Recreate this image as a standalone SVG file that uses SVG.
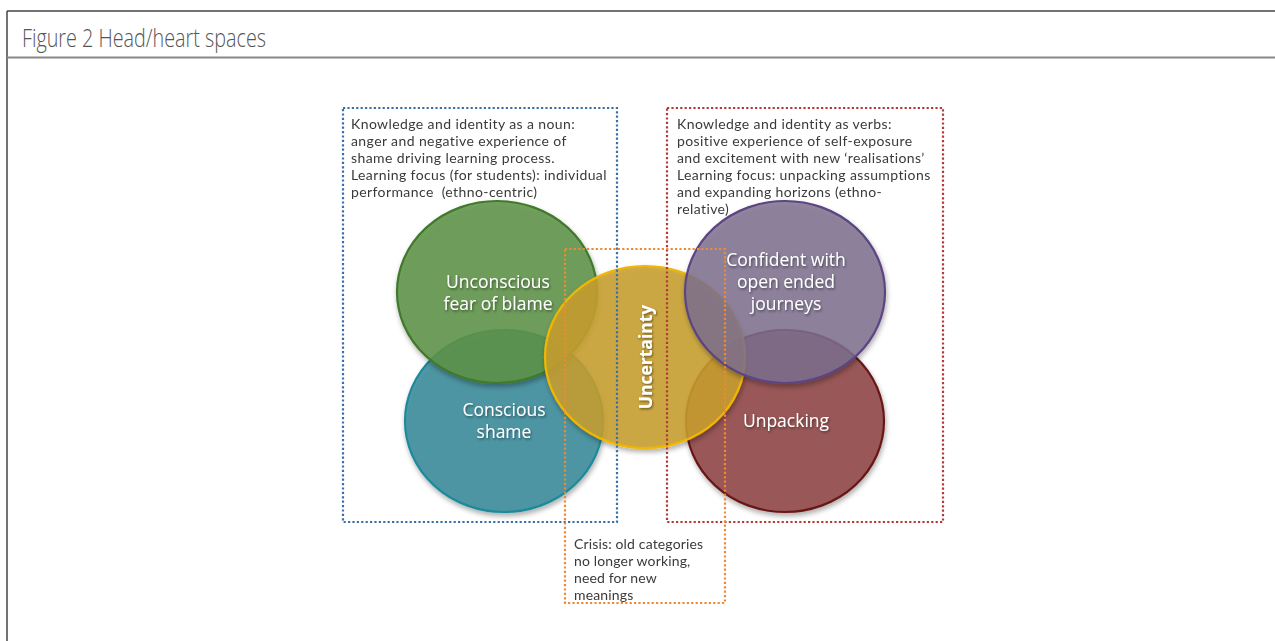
<svg xmlns="http://www.w3.org/2000/svg" width="1275" height="641" viewBox="0 0 1275 641">
<defs>
<filter id="sh" x="-20%" y="-20%" width="140%" height="140%">
<feDropShadow dx="1" dy="3" stdDeviation="2.5" flood-color="#000" flood-opacity="0.35"/>
</filter>
<filter id="tsh" x="-20%" y="-20%" width="140%" height="140%">
<feDropShadow dx="1" dy="1.5" stdDeviation="1" flood-color="#000" flood-opacity="0.45"/>
</filter>
<style>
.frame{stroke:#444;stroke-width:1.5;fill:none}
.title{font-family:"Open Sans","Liberation Sans",sans-serif;font-size:25px;fill:#555;font-weight:300}
.box{fill:none;stroke-width:2.2;stroke-dasharray:2.2 2.2}
.bt{font-family:Lato,"Open Sans",sans-serif;font-size:14px;fill:#3a3a3a;letter-spacing:0.4px}
.cr{letter-spacing:0.15px}
.ct{font-family:"Open Sans","Liberation Sans",sans-serif;font-size:17.5px;fill:#fff;text-anchor:middle}
.c{stroke-width:2.2;filter:url(#sh)}
</style>
</defs>
<g id="frame">
<line class="frame" x1="7" y1="11" x2="1275" y2="11"/>
<line class="frame" x1="7" y1="11" x2="7" y2="641"/>
<line x1="7" y1="57.5" x2="1275" y2="57.5" stroke="#888" stroke-width="2"/>
<text class="title" x="22" y="47" textLength="244" lengthAdjust="spacingAndGlyphs">Figure 2 Head/heart spaces</text>
</g>
<g id="circle-teal">
<ellipse class="c" cx="504" cy="421" rx="99" ry="91" fill="#3a8c9c" fill-opacity="0.85" stroke="#1f8a9a"/>
</g>
<g id="circle-green">
<ellipse class="c" cx="497" cy="292" rx="100" ry="91" fill="#5f9448" fill-opacity="0.85" stroke="#3f7a2c"/>
</g>
<g id="circle-maroon">
<ellipse class="c" cx="785" cy="421" rx="99" ry="91" fill="#914646" fill-opacity="0.85" stroke="#6a1818"/>
</g>
<g id="circle-yellow">
<ellipse class="c" cx="645" cy="357" rx="100" ry="91" fill="#c9a030" fill-opacity="0.85" stroke="#f2b600"/>
</g>
<g id="circle-purple">
<ellipse class="c" cx="785" cy="292" rx="100" ry="91" fill="#7f7090" fill-opacity="0.82" stroke="#5b4580"/>
</g>
<g id="labels" filter="url(#tsh)">
<text class="ct" x="498" y="288">Unconscious</text>
<text class="ct" x="498" y="310">fear of blame</text>
<text class="ct" x="504" y="416">Conscious</text>
<text class="ct" x="504" y="438">shame</text>
<text class="ct" x="652" y="357" transform="rotate(-90 652 357)" font-weight="bold" font-size="18">Uncertainty</text>
<text class="ct" x="786" y="266">Confident with</text>
<text class="ct" x="786" y="288">open ended</text>
<text class="ct" x="786" y="310">journeys</text>
<text class="ct" x="786" y="427">Unpacking</text>
</g>
<g id="box-noun">
<rect class="box" x="343" y="108" width="274" height="414" stroke="#3b6fa8"/>
<text class="bt" x="351" y="129">Knowledge and identity as a noun:</text>
<text class="bt" x="351" y="146">anger and negative experience of</text>
<text class="bt" x="351" y="163">shame driving learning process.</text>
<text class="bt" x="351" y="180">Learning focus (for students): individual</text>
<text class="bt" x="351" y="197">performance&#160; (ethno-centric)</text>
</g>
<g id="box-verbs">
<rect class="box" x="667" y="108" width="276" height="414" stroke="#b23a3a"/>
<text class="bt" x="677" y="129">Knowledge and identity as verbs:</text>
<text class="bt" x="677" y="146">positive experience of self-exposure</text>
<text class="bt" x="677" y="163">and excitement with new ‘realisations’</text>
<text class="bt" x="677" y="180">Learning focus: unpacking assumptions</text>
<text class="bt" x="677" y="197">and expanding horizons (ethno-</text>
<text class="bt" x="677" y="214">relative)</text>
</g>
<g id="box-crisis">
<rect class="box" x="565" y="249" width="160" height="354" stroke="#ec8a35"/>
<text class="bt cr" x="574" y="549">Crisis: old categories</text>
<text class="bt cr" x="574" y="566">no longer working,</text>
<text class="bt cr" x="574" y="583">need for new</text>
<text class="bt cr" x="574" y="600">meanings</text>
</g>
</svg>
